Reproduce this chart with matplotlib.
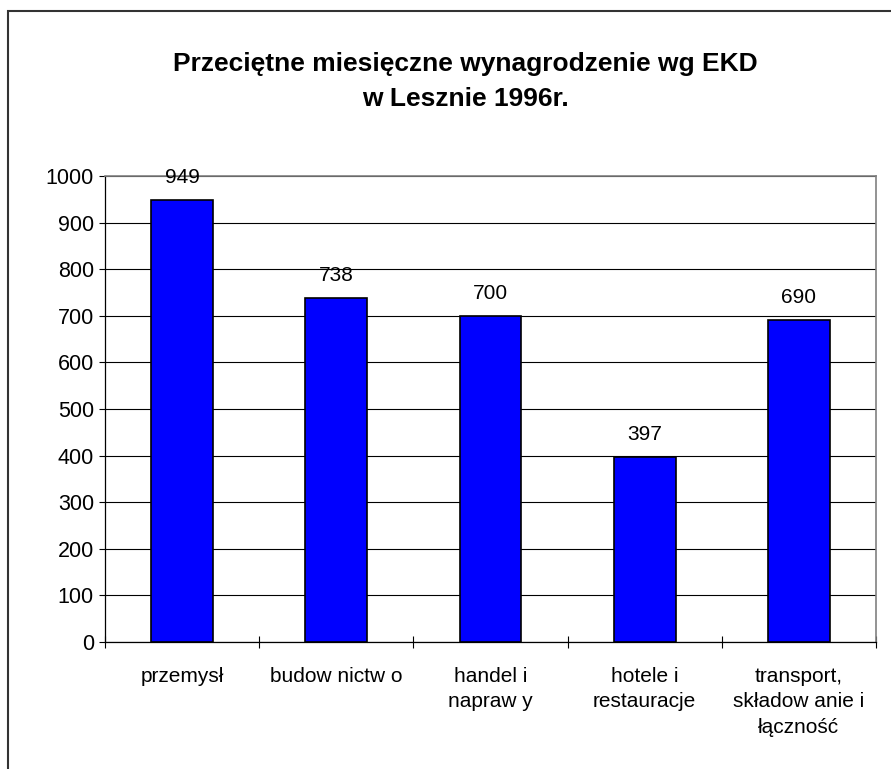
import matplotlib.pyplot as plt
from matplotlib.patches import Rectangle

categories = ['przemysł', 'budow nictw o', 'handel i\nnapraw y', 'hotele i\nrestauracje',
              'transport,\nskładow anie i\nłączność']
values = [949, 738, 700, 397, 690]
title_lines = ['Przeciętne miesięczne wynagrodzenie wg EKD', 'w Lesznie 1996r.']

plt.rcParams['font.family'] = ['Liberation Sans', 'DejaVu Sans']


def main():
    fig = plt.figure(figsize=(8.91, 7.69), dpi=100)
    ax = fig.add_axes([105 / 891, 1 - 642 / 769, 771 / 891, 466 / 769])

    x = list(range(len(categories)))
    bars = ax.bar(x, values, width=0.40, color='#0000ff', edgecolor='black',
                  linewidth=1.2, zorder=3)
    for b, v in zip(bars, values):
        ax.annotate(str(v), (b.get_x() + b.get_width() / 2, v), xytext=(0, 9.5),
                    textcoords='offset points', ha='center', va='bottom',
                    fontsize=15, zorder=4)

    ax.set_xlim(-0.5, len(categories) - 0.5)
    ax.set_ylim(0, 1000)
    ax.set_yticks(range(0, 1001, 100))
    ax.yaxis.grid(True, color='black', linewidth=0.8, zorder=0)

    ax.set_xticks(x)
    ax.set_xticklabels(categories, fontsize=15, linespacing=1.42)
    ax.set_xticks([i + 0.5 for i in range(-1, len(categories))], minor=True)
    ax.tick_params(axis='x', which='major', length=0, pad=18)
    ax.tick_params(axis='x', which='minor', direction='inout', length=8.5, width=0.8)
    ax.tick_params(axis='y', direction='out', length=4, width=0.8, labelsize=15.5, pad=4)

    for s in ('top', 'right'):
        ax.spines[s].set_color('#808080')
        ax.spines[s].set_linewidth(1.2)
    for s in ('left', 'bottom'):
        ax.spines[s].set_color('black')
        ax.spines[s].set_linewidth(0.9)

    for i, line in enumerate(title_lines):
        fig.text(465 / 891, 1 - (62 + 35 * i) / 769, line, ha='center', va='center_baseline',
                 fontsize=19, fontweight='bold')

    fig.patches.append(Rectangle((7.5 / 891, -0.1), 1.2, 1 - 10.5 / 769 + 0.1,
                                 transform=fig.transFigure, fill=False,
                                 edgecolor='#333333', linewidth=1.5))

    fig.savefig('out.png', dpi=100)


if __name__ == '__main__':
    main()
